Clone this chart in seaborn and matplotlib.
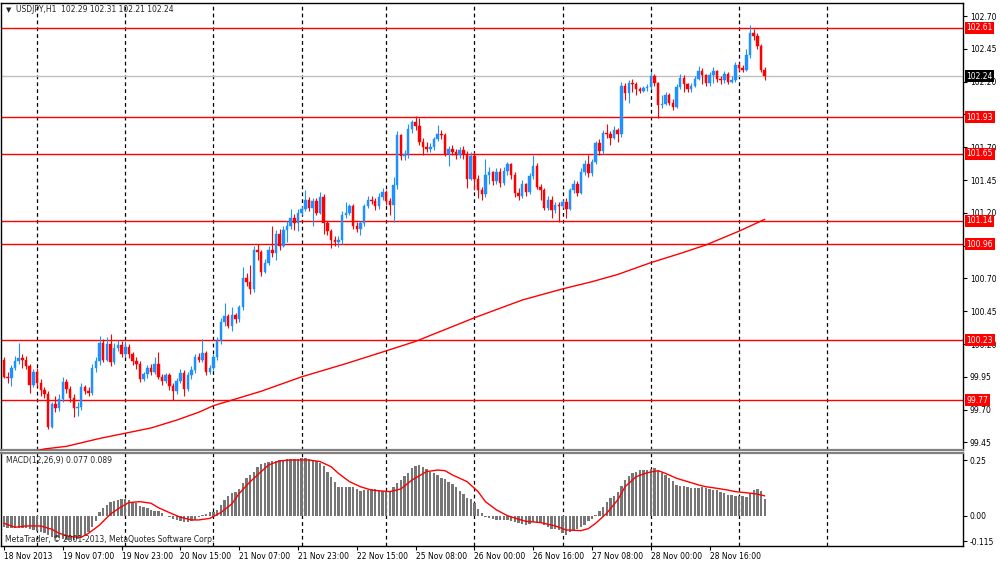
import numpy as np
import matplotlib
matplotlib.use("Agg")
import matplotlib.pyplot as plt
import seaborn as sns

# USDJPY H1 candles (open of each bar = previous close)
first_open = 100.08
closes = [
    99.95, 99.94, 100.02, 100.07, 100.09, 100.08, 100.03, 99.89, 99.99, 99.90,
    99.85, 99.82, 99.57, 99.74, 99.71, 99.78, 99.91, 99.86, 99.79, 99.71,
    99.72, 99.87, 99.84, 99.83, 100.02, 100.07, 100.21, 100.08, 100.20, 100.06,
    100.17, 100.19, 100.12, 100.18, 100.12, 100.07, 100.05, 99.93, 99.97, 100.02,
    99.99, 100.05, 99.95, 99.92, 99.96, 99.88, 99.84, 99.92, 99.98, 99.86,
    99.96, 100.00, 100.10, 100.08, 100.13, 99.99, 100.02, 100.10, 100.22, 100.37,
    100.41, 100.34, 100.42, 100.39, 100.48, 100.70, 100.67, 100.62, 100.92, 100.90,
    100.75, 100.82, 100.92, 100.89, 101.04, 100.95, 101.07, 101.10, 101.16, 101.12,
    101.20, 101.23, 101.30, 101.24, 101.29, 101.20, 101.32, 101.12, 101.06, 100.99,
    100.98, 100.99, 101.18, 101.20, 101.25, 101.10, 101.08, 101.12, 101.25, 101.30,
    101.29, 101.25, 101.32, 101.36, 101.29, 101.26, 101.41, 101.79, 101.63, 101.65,
    101.84, 101.89, 101.86, 101.74, 101.70, 101.69, 101.70, 101.76, 101.80, 101.79,
    101.65, 101.69, 101.66, 101.64, 101.68, 101.65, 101.46, 101.63, 101.46, 101.37,
    101.34, 101.49, 101.51, 101.44, 101.51, 101.43, 101.52, 101.57, 101.49, 101.35,
    101.33, 101.42, 101.36, 101.48, 101.56, 101.40, 101.37, 101.24, 101.30, 101.22,
    101.26, 101.25, 101.28, 101.23, 101.37, 101.42, 101.35, 101.51, 101.57, 101.50,
    101.59, 101.73, 101.67, 101.81, 101.80, 101.77, 101.83, 101.80, 102.17, 102.11,
    102.19, 102.18, 102.14, 102.13, 102.15, 102.16, 102.24, 102.19, 102.02, 102.03,
    102.10, 102.04, 102.01, 102.16, 102.23, 102.18, 102.14, 102.17, 102.22, 102.28,
    102.25, 102.19, 102.25, 102.28, 102.22, 102.21, 102.26, 102.20, 102.21, 102.33,
    102.30, 102.29, 102.40, 102.57, 102.55, 102.47, 102.29, 102.24,
]
highs = [
    100.10, 99.99, 100.04, 100.11, 100.21, 100.12, 100.11, 100.05, 100.01, 100.02,
    99.93, 99.87, 99.84, 99.76, 99.80, 99.82, 99.95, 99.93, 99.88, 99.82,
    99.76, 99.90, 99.89, 99.87, 100.05, 100.10, 100.26, 100.24, 100.25, 100.28,
    100.21, 100.23, 100.22, 100.22, 100.20, 100.14, 100.10, 100.07, 99.99, 100.04,
    100.05, 100.10, 100.14, 99.97, 99.98, 99.98, 99.90, 99.94, 100.01, 100.00,
    99.99, 100.03, 100.12, 100.13, 100.24, 100.15, 100.04, 100.12, 100.25, 100.40,
    100.51, 100.43, 100.48, 100.44, 100.50, 100.79, 100.74, 100.80, 100.95, 100.96,
    100.92, 100.85, 100.95, 101.10, 101.07, 101.08, 101.10, 101.14, 101.23, 101.19,
    101.23, 101.25, 101.37, 101.32, 101.31, 101.31, 101.36, 101.34, 101.14, 101.08,
    101.02, 101.02, 101.21, 101.28, 101.27, 101.27, 101.13, 101.14, 101.27, 101.33,
    101.33, 101.31, 101.35, 101.39, 101.37, 101.31, 101.47, 101.82, 101.80, 101.68,
    101.88, 101.91, 101.94, 101.92, 101.77, 101.74, 101.73, 101.78, 101.87, 101.83,
    101.81, 101.71, 101.72, 101.69, 101.70, 101.71, 101.67, 101.66, 101.66, 101.49,
    101.40, 101.61, 101.55, 101.52, 101.54, 101.54, 101.55, 101.59, 101.58, 101.51,
    101.39, 101.45, 101.43, 101.50, 101.64, 101.58, 101.42, 101.39, 101.33, 101.33,
    101.28, 101.28, 101.30, 101.31, 101.39, 101.45, 101.44, 101.54, 101.60, 101.64,
    101.61, 101.75, 101.76, 101.83, 101.88, 101.82, 101.86, 101.85, 102.20, 102.19,
    102.21, 102.22, 102.20, 102.16, 102.17, 102.18, 102.27, 102.26, 102.20, 102.10,
    102.12, 102.11, 102.07, 102.18, 102.26, 102.25, 102.19, 102.19, 102.24, 102.32,
    102.30, 102.26, 102.27, 102.31, 102.29, 102.24, 102.28, 102.27, 102.24, 102.35,
    102.34, 102.33, 102.45, 102.63, 102.60, 102.57, 102.49, 102.31,
]
lows = [
    99.94, 99.90, 99.88, 100.00, 100.05, 100.02, 100.01, 99.83, 99.87, 99.88,
    99.80, 99.79, 99.55, 99.56, 99.68, 99.69, 99.76, 99.83, 99.76, 99.64,
    99.65, 99.70, 99.82, 99.80, 99.81, 99.99, 100.04, 100.06, 100.07, 100.03,
    100.05, 100.15, 100.10, 100.10, 100.09, 100.04, 100.01, 99.91, 99.92, 99.94,
    99.96, 99.97, 99.93, 99.89, 99.90, 99.85, 99.77, 99.82, 99.90, 99.80,
    99.84, 99.93, 99.98, 100.06, 100.06, 99.96, 99.97, 100.00, 100.08, 100.20,
    100.34, 100.32, 100.30, 100.36, 100.37, 100.46, 100.64, 100.58, 100.60, 100.84,
    100.72, 100.74, 100.80, 100.86, 100.84, 100.92, 100.94, 100.98, 101.08, 101.07,
    101.06, 101.18, 101.21, 101.21, 101.10, 101.18, 101.19, 101.04, 101.03, 100.93,
    100.95, 100.94, 100.96, 101.16, 101.18, 101.08, 101.05, 101.03, 101.10, 101.24,
    101.27, 101.22, 101.23, 101.30, 101.26, 101.18, 101.13, 101.38, 101.60, 101.60,
    101.62, 101.81, 101.83, 101.72, 101.64, 101.66, 101.66, 101.68, 101.75, 101.76,
    101.63, 101.56, 101.64, 101.61, 101.62, 101.61, 101.39, 101.45, 101.37, 101.31,
    101.30, 101.32, 101.42, 101.41, 101.42, 101.40, 101.41, 101.49, 101.46, 101.32,
    101.30, 101.31, 101.33, 101.34, 101.46, 101.38, 101.30, 101.22, 101.22, 101.16,
    101.20, 101.13, 101.24, 101.16, 101.22, 101.35, 101.33, 101.34, 101.49, 101.47,
    101.48, 101.57, 101.64, 101.65, 101.77, 101.72, 101.76, 101.74, 101.78, 102.06,
    102.04, 102.12, 102.10, 102.11, 102.12, 102.13, 102.14, 102.17, 101.92, 102.00,
    102.02, 102.02, 101.98, 102.00, 102.14, 102.12, 102.12, 102.12, 102.16, 102.21,
    102.18, 102.17, 102.17, 102.19, 102.20, 102.18, 102.19, 102.18, 102.19, 102.20,
    102.28, 102.27, 102.28, 102.38, 102.52, 102.45, 102.27, 102.21,
]

# red moving average on the price panel (bar index, value)
ma_bars = [0, 11, 17, 26, 33, 40, 47, 53, 57, 70, 81, 93, 102, 112, 128, 141,
           152, 160, 167, 176, 184, 191, 200, 207]
ma_vals = [99.32, 99.40, 99.42, 99.48, 99.52, 99.56, 99.62, 99.68, 99.73, 99.84,
           99.95, 100.05, 100.13, 100.22, 100.40, 100.535, 100.62, 100.675, 100.73,
           100.82, 100.89, 100.955, 101.06, 101.15]

# MACD(12,26,9) histogram, one value per bar
macd_hist = [
    -0.052, -0.057, -0.057, -0.057, -0.054, -0.054, -0.057, -0.061, -0.064, -0.067,
    -0.071, -0.079, -0.086, -0.094, -0.098, -0.101, -0.106, -0.109, -0.109, -0.109,
    -0.106, -0.097, -0.086, -0.071, -0.052, -0.025, 0.018, 0.033, 0.048, 0.060,
    0.067, 0.070, 0.073, 0.076, 0.070, 0.063, 0.055, 0.045, 0.039, 0.033,
    0.026, 0.023, 0.021, 0.012, -0.003, -0.007, -0.013, -0.018, -0.022, -0.028,
    -0.030, -0.025, -0.018, -0.007, 0.005, 0.009, 0.015, 0.018, 0.026, 0.048,
    0.070, 0.088, 0.100, 0.108, 0.118, 0.145, 0.168, 0.183, 0.198, 0.220,
    0.232, 0.238, 0.241, 0.244, 0.246, 0.249, 0.252, 0.253, 0.253, 0.253,
    0.255, 0.258, 0.258, 0.255, 0.250, 0.247, 0.238, 0.225, 0.198, 0.175,
    0.153, 0.130, 0.130, 0.130, 0.130, 0.130, 0.118, 0.112, 0.115, 0.115,
    0.118, 0.118, 0.115, 0.111, 0.108, 0.108, 0.130, 0.145, 0.160, 0.178,
    0.193, 0.213, 0.225, 0.226, 0.217, 0.208, 0.198, 0.190, 0.181, 0.171,
    0.163, 0.153, 0.142, 0.130, 0.112, 0.097, 0.078, 0.073, 0.055, 0.030,
    0.011, -0.004, -0.010, -0.014, -0.019, -0.019, -0.019, -0.019, -0.023, -0.028,
    -0.032, -0.038, -0.043, -0.037, -0.028, -0.028, -0.034, -0.043, -0.052, -0.058,
    -0.061, -0.066, -0.076, -0.086, -0.073, -0.064, -0.059, -0.052, -0.041, -0.022,
    -0.013, 0.002, 0.023, 0.041, 0.062, 0.078, 0.089, 0.108, 0.133, 0.160,
    0.178, 0.190, 0.198, 0.205, 0.205, 0.207, 0.210, 0.213, 0.202, 0.190,
    0.181, 0.168, 0.157, 0.139, 0.133, 0.132, 0.129, 0.124, 0.123, 0.126,
    0.127, 0.124, 0.120, 0.117, 0.114, 0.108, 0.100, 0.094, 0.093, 0.090,
    0.088, 0.087, 0.085, 0.100, 0.115, 0.118, 0.112, 0.077,
]
signal_bars = [0, 3, 6, 10, 13, 15, 18, 21, 23, 26, 29, 32, 34, 37, 40, 42, 45, 48, 51, 53,
               56, 59, 62, 64, 67, 70, 72, 75, 78, 81, 83, 86, 89, 91, 94, 97, 100, 102, 105, 108,
               111, 115, 118, 120, 122, 126, 129, 131, 134, 137, 140, 142, 146, 150, 153, 157, 159, 161, 164, 167,
               169, 172, 175, 178, 180, 183, 186, 189, 191, 194, 197, 199, 202, 205, 207]
signal_vals = [-0.034, -0.052, -0.046, -0.046, -0.061, -0.079, -0.094, -0.097, -0.079, -0.042,
               0.008, 0.041, 0.059, 0.063, 0.056, 0.036, 0.014, -0.007, -0.019, -0.019,
               -0.012, 0.014, 0.053, 0.100, 0.153, 0.198, 0.228, 0.246, 0.250, 0.250,
               0.250, 0.243, 0.220, 0.190, 0.153, 0.130, 0.115, 0.112, 0.108, 0.120,
               0.160, 0.198, 0.205, 0.202, 0.183, 0.153, 0.108, 0.063, 0.026, 0.000,
               -0.016, -0.025, -0.031, -0.046, -0.064, -0.067, -0.058, -0.034, 0.011, 0.071,
               0.130, 0.175, 0.193, 0.202, 0.190, 0.168, 0.153, 0.138, 0.130, 0.123,
               0.115, 0.108, 0.103, 0.097, 0.089]

levels = [102.61, 101.93, 101.65, 101.14, 100.96, 100.23, 99.77]
last_price = 102.24
price_ticks = [99.45, 99.70, 99.95, 100.20, 100.45, 100.70, 100.95, 101.20,
               101.45, 101.70, 101.95, 102.20, 102.45, 102.70]
# 100.95 and 101.95 sit fully under the level boxes in the screenshot
price_tick_labels = ["99.45", "99.70", "99.95", "100.20", "100.45", "100.70", "",
                     "101.20", "101.45", "101.70", "", "102.20", "102.45", "102.70"]
macd_ticks = [0.25, 0.0, -0.115]
macd_tick_labels = ["0.25", "0.00", "-0.115"]
time_label_bars = [0, 16, 32, 48, 64, 80, 96, 112, 128, 144, 160, 176, 192]
time_labels = ["18 Nov 2013", "19 Nov 07:00", "19 Nov 23:00", "20 Nov 15:00",
               "21 Nov 07:00", "21 Nov 23:00", "22 Nov 15:00", "25 Nov 08:00",
               "26 Nov 00:00", "26 Nov 16:00", "27 Nov 08:00", "28 Nov 00:00",
               "28 Nov 16:00"]
day_bars = [9, 33, 57, 81, 104, 128, 152, 176, 200, 224]

sns.set_style("white")
plt.rcParams['font.family'] = ['DejaVu Sans']
FS = 5.5
UP = '#1e90ff'
DOWN = '#ff0000'

bars = np.arange(len(closes))
c = np.array(closes)
o = np.r_[first_open, c[:-1]]
colors = np.where(c >= o, UP, DOWN)

fig = plt.figure(figsize=(10, 5.62), dpi=100)
ax = fig.add_axes([0.001, 1 - 450 / 562, 0.962, 447 / 562])
ax2 = fig.add_axes([0.001, 1 - 546 / 562, 0.962, 93 / 562])

xmin = -3 / 3.675
xmax = xmin + 962 / 3.675

# price panel
for b in day_bars:
    ax.axvline(b, color='black', lw=0.9, ls=(0, (3, 2.5)), zorder=1)
    ax2.axvline(b, color='black', lw=0.9, ls=(0, (3, 2.5)), zorder=1)
ax.axhline(last_price, color='#c0c0c0', lw=1, zorder=1)
for lvl in levels:
    ax.axhline(lvl, color='red', lw=1, zorder=2)

ax.vlines(bars, lows, highs, colors=colors, lw=0.8, zorder=3)
ax.bar(bars, np.abs(c - o), bottom=np.minimum(o, c), width=0.68, color=colors,
       edgecolor=colors, linewidth=0.3, zorder=4)
sns.lineplot(x=ma_bars, y=ma_vals, ax=ax, color='red', lw=1, zorder=5)

ax.set_xlim(xmin, xmax)
ax.set_ylim(102.70 - 434 / 131.2, 102.70 + 13 / 131.2)
ax.yaxis.tick_right()
ax.set_yticks(price_ticks)
ax.set_yticklabels(price_tick_labels)
ax.set_xticks([])
ax.tick_params(axis='y', right=True, left=False, length=3, width=0.8,
               labelsize=FS, pad=2, direction='out', colors='black')
ax.set_xlabel('')
ax.set_ylabel('')

trans = ax.get_yaxis_transform()
for lvl in levels:
    ax.text(1.0 + 3.5 / 962, lvl, f"{lvl:.2f}", transform=trans, ha='left', va='center',
            fontsize=FS, color='white', clip_on=False, zorder=10,
            bbox=dict(boxstyle='square,pad=0.2', fc='red', ec='none'))
ax.text(1.0 + 3.5 / 962, last_price, f"{last_price:.2f}", transform=trans, ha='left',
        va='center', fontsize=FS, color='white', clip_on=False, zorder=10,
        bbox=dict(boxstyle='square,pad=0.2', fc='black', ec='none'))

# MACD panel
ax2.bar(bars, macd_hist, width=0.65, color='#767676', linewidth=0, zorder=2)
sns.lineplot(x=signal_bars, y=signal_vals, ax=ax2, color='red', lw=1, zorder=3)
ax2.set_xlim(xmin, xmax)
ax2.set_ylim((515.7 - 546) / 222.8, (515.7 - 453) / 222.8)
ax2.yaxis.tick_right()
ax2.set_yticks(macd_ticks)
ax2.set_yticklabels(macd_tick_labels)
ax2.set_xticks(time_label_bars)
ax2.set_xticklabels(time_labels)
for lab in ax2.get_xticklabels():
    lab.set_ha('left')
ax2.tick_params(axis='y', right=True, left=False, length=3, width=0.8,
                labelsize=FS, pad=2, direction='out', colors='black')
ax2.tick_params(axis='x', bottom=True, length=3, width=0.8, labelsize=FS,
                pad=1.5, direction='out', colors='black')
ax2.set_xlabel('')
ax2.set_ylabel('')

for a in (ax, ax2):
    for s in a.spines.values():
        s.set_visible(True)
        s.set_color('black')
        s.set_linewidth(1)
ax.spines['bottom'].set_color('#808080')
ax.spines['bottom'].set_linewidth(1.6)
ax2.spines['top'].set_color('#808080')
ax2.spines['top'].set_linewidth(1.6)

fig.text(6 / 1000, 1 - 10 / 562, "\u25bc", fontsize=5, va='center', ha='left')
fig.text(16 / 1000, 1 - 10 / 562, "USDJPY,H1  102.29 102.31 102.21 102.24",
         fontsize=FS, va='center', ha='left')
fig.text(6 / 1000, 1 - 461 / 562, "MACD(12,26,9) 0.077 0.089",
         fontsize=FS, va='center', ha='left')
fig.text(5 / 1000, 1 - 539 / 562, "MetaTrader, \u00a9 2001-2013, MetaQuotes Software Corp.",
         fontsize=FS, va='center', ha='left')

fig.savefig("out.png", dpi=100)
